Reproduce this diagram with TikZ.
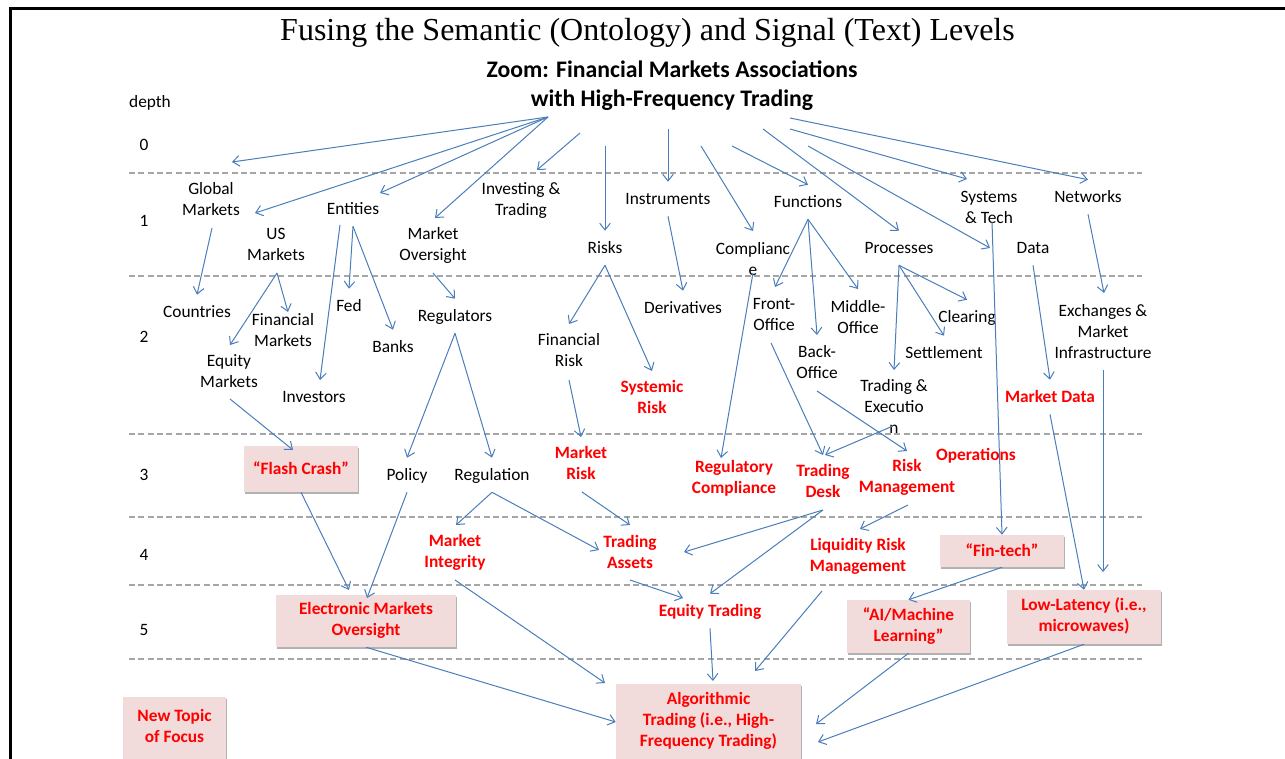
\documentclass[tikz,border=0pt]{standalone}
\usepackage{fontspec}
\setmainfont{Carlito}
\newfontfamily\serifhead{Liberation Serif}
\usetikzlibrary{arrows.meta,shadows}
\definecolor{linkblue}{HTML}{4A7EBB}
\definecolor{hotred}{HTML}{FF0000}
\definecolor{boxpink}{HTML}{F2DCDB}
\definecolor{rulegray}{HTML}{A6A6A6}
\newcommand\bodysize{\fontsize{13}{15.75}\selectfont}
% line strut whose box centre sits on the middle of the capitals
\newcommand\linestrut{\rule[-3.4pt]{0pt}{15.75pt}}
\begin{document}
\begin{tikzpicture}[x=0.75pt,y=-0.75pt,
  lbl/.style={inner sep=4.9pt, align=center, font=\bodysize,
    execute at begin node=\linestrut, execute at end node=\linestrut},
  hot/.style={lbl, text=hotred, font=\bodysize\bfseries},
  topic/.style={hot, fill=boxpink, inner sep=0pt,
    drop shadow={shadow xshift=0.6pt, shadow yshift=-1.2pt, fill=black, opacity=0.3}},
  arr/.style={draw=linkblue, line width=0.75pt, -{Straight Barb[length=5pt,width=8pt]}},
  tier/.style={draw=rulegray, line width=1pt, dash pattern=on 4.5pt off 2.5pt},
  depthlbl/.style={font=\bodysize, inner sep=0pt}]

\useasboundingbox (0,0) rectangle (1285,759);
% frame
\draw[line width=2.25pt] (1290,9) -- (10,9) -- (10,765);

% titles
\node (title) at (647.5,33) {\serifhead\fontsize{24}{28}\selectfont Fusing the Semantic (Ontology) and Signal (Text) Levels};
\node[align=center, font=\fontsize{17.8}{21.75}\selectfont\bfseries, inner sep=0pt] (head) at (672,85.5)
  {Zoom: Financial Markets Associations\\with High-Frequency Trading};

% depth bands
\foreach \yy in {173,276,434,517,585,659}
  \draw[tier] (129,\yy) -- (1142,\yy);
\node[depthlbl] (dlab) at (150,103) {depth};
\node[depthlbl] (d0) at (144,145) {0};
\node[depthlbl] (d1) at (144,221) {1};
\node[depthlbl] (d2) at (144,337) {2};
\node[depthlbl] (d3) at (144,475) {3};
\node[depthlbl] (d4) at (144,555) {4};
\node[depthlbl] (d5) at (144,630) {5};

% depth 1
\node[lbl] (glob)  at (211,201.5) {Global\\Markets};
\node[lbl] (ent)   at (353,209) {Entities};
\node[lbl] (us)    at (276,246.5) {US\\Markets};
\node[lbl] (mo)    at (433,246.5) {Market\\Oversight};
\node[lbl] (invt)  at (521,201.5) {Investing \&\\Trading};
\node[lbl] (instr) at (668,199) {Instruments};
\node[lbl] (risks) at (605,248) {Risks};
\node[lbl] (comp)  at (753,261) {Complianc\\e};
\node[lbl] (func)  at (808,202) {Functions};
\node[lbl] (proc)  at (899,248) {Processes};
\node[lbl] (sys)   at (989,209.5) {Systems\\\& Tech};
\node[lbl] (net)   at (1088,197) {Networks};
\node[lbl] (data)  at (1033,248) {Data};

% depth 2
\node[lbl] (ctry)   at (197,312) {Countries};
\node[lbl] (finm)   at (283,332.5) {Financial\\Markets};
\node[lbl] (fed)    at (349,306) {Fed};
\node[lbl] (eqm)    at (229,373.5) {Equity\\Markets};
\node[lbl] (invs)   at (314,397) {Investors};
\node[lbl] (banks)  at (393,347) {Banks};
\node[lbl] (regs)   at (455,316) {Regulators};
\node[lbl] (deriv)  at (683,308) {Derivatives};
\node[lbl] (finr)   at (569,352.5) {Financial\\Risk};
\node[hot] (sysr)   at (652,399.5) {Systemic\\Risk};
\node[lbl] (front)  at (774,316.5) {Front-\\Office};
\node[lbl] (mid)    at (858,319.5) {Middle-\\Office};
\node[lbl] (back)   at (817,364.5) {Back-\\Office};
\node[lbl] (clear)  at (967,317) {Clearing};
\node[lbl] (settle) at (944,353) {Settlement};
\node[lbl] (trex)   at (894,408.5) {Trading \&\\Executio\\n};
\node[lbl] (exch)   at (1103,333.5) {Exchanges \&\\Market\\Infrastructure};
\node[hot] (mdata)  at (1050,397) {Market Data};

% depth 3
\node[topic, minimum width=85.5pt, minimum height=34.5pt] (flash) at (301,469) {“Flash Crash”};
\node[lbl] (policy) at (407,475) {Policy};
\node[lbl] (regn)   at (492,475) {Regulation};
\node[hot] (mrisk)  at (581,465.5) {Market\\Risk};
\node[hot] (regc)   at (734,479.5) {Regulatory\\Compliance};
\node[hot] (tdesk)  at (823,483.5) {Trading\\Desk};
\node[hot] (riskm)  at (907,478.5) {Risk\\Management};
\node[hot] (ops)    at (976,455) {Operations};

% depth 4
\node[hot] (minteg)  at (455,553.5) {Market\\Integrity};
\node[hot] (tassets) at (630,554.5) {Trading\\Assets};
\node[hot] (liq)     at (858,557.5) {Liquidity Risk\\Management};
\node[topic, minimum width=93pt, minimum height=24pt] (fintech) at (1002,551) {“Fin-tech”};

% depth 5
\node[topic, minimum width=135pt, minimum height=39pt] (emo) at (366,621) {Electronic Markets\\Oversight};
\node[hot] (eqt) at (710,611) {Equity Trading};
\node[topic, minimum width=92.25pt, minimum height=39.75pt] (aiml) at (908.5,626.5) {“AI/Machine\\Learning”};
\node[topic, minimum width=115.5pt, minimum height=40.5pt] (lowlat) at (1084,617) {Low-Latency (i.e.,\\microwaves)};

% goal and legend
\node[topic, minimum width=138.75pt, minimum height=57pt] (algo) at (708.5,722) {Algorithmic\\Trading (i.e., High-\\Frequency Trading)};
\node[topic, minimum width=77.25pt, minimum height=46.5pt] (newt) at (174.5,728) {New Topic\\of Focus};

% free ends of the fan below the heading
\coordinate (hubL) at (548,117);
\coordinate (s1) at (580,133);
\coordinate (s2) at (605,146);
\coordinate (s3) at (668,129);
\coordinate (s4) at (701,146);
\coordinate (s5) at (732,146);
\coordinate (s6) at (763,129);
\coordinate (s7) at (808,146);
\coordinate (s8) at (790,129);
\coordinate (s9) at (790,118);
\coordinate (loose0) at (232,162);
\coordinate (loose1) at (1103,572);

% depth 0 -> 1
\draw[arr] (hubL) -- (loose0);
\draw[arr] (hubL) -- ([shift={(44,11.5)}]glob.center);
\draw[arr] (hubL) -- ([shift={(27,-16)}]ent.center);
\draw[arr] (hubL) -- ([shift={(2,-28.5)}]mo.center);
\draw[arr] (s1) -- ([shift={(16,-31.5)}]invt.center);
\draw[arr] (s2) -- (risks.north);
\draw[arr] (s3) -- (instr.north);
\draw[arr] (s4) -- ([shift={(0,-30)}]comp.center);
\draw[arr] (s5) -- (func.north);
\draw[arr] (s6) -- (proc.north);
\draw[arr] (s7) -- ([shift={(-43,0)}]data.center);
\draw[arr] (s8) -- ([shift={(-22,-30.5)}]sys.center);
\draw[arr] (s9) -- (net.north);

% depth 1 -> 2
\draw[arr] ([shift={(1,26.5)}]glob.center) -- (ctry.north);
\draw[arr] ([shift={(1,26.5)}]us.center) -- ([shift={(1,-28.5)}]eqm.center);
\draw[arr] ([shift={(1,26.5)}]us.center) -- ([shift={(5,-20.5)}]finm.center);
\draw[arr] ([shift={(-13,16)}]ent.center) -- ([shift={(6,-17)}]invs.center);
\draw[arr] (ent.south) -- (fed.north);
\draw[arr] (ent.south) -- (banks.north);
\draw[arr] ([shift={(0,26.5)}]mo.center) -- (regs.north);
\draw[arr] (risks.south) -- ([shift={(0,-28.5)}]finr.center);
\draw[arr] (risks.south) -- ([shift={(0,-28.5)}]sysr.center);
\draw[arr] (instr.south) -- (deriv.north);
\draw[arr] (func.south) -- ([shift={(1,-29.5)}]front.center);
\draw[arr] (func.south) -- ([shift={(0,-29.5)}]back.center);
\draw[arr] (func.south) -- ([shift={(0,-30.5)}]mid.center);
\draw[arr] (proc.south) -- (clear.north);
\draw[arr] (proc.south) -- (settle.north);
\draw[arr] (proc.south) -- ([shift={(0,-38.5)}]trex.center);
\draw[arr] (net.south) -- ([shift={(1,-40.5)}]exch.center);
\draw[arr] (data.south) -- (mdata.north);

% into depth 3 and below
\draw[arr] ([shift={(3,12.5)}]sys.center) -- (fintech.north);
\draw[arr] ([shift={(0,36.5)}]exch.center) -- (loose1);
\draw[arr] (mdata.south) -- (lowlat.north);
\draw[arr] ([shift={(0,12)}]comp.center) -- ([shift={(-13,-21.5)}]regc.center);
\draw[arr] ([shift={(-3,26.5)}]front.center) -- ([shift={(0,-28.5)}]tdesk.center);
\draw[arr] ([shift={(0,26.5)}]back.center) -- ([shift={(0,-27.5)}]riskm.center);
\draw[arr] ([shift={(-1,17.5)}]trex.center) -- ([shift={(2,-28.5)}]tdesk.center);
\draw[arr] ([shift={(1,25.5)}]eqm.center) -- ([shift={(-8,-19)}]flash.center);
\draw[arr] (regs.south) -- (policy.north);
\draw[arr] (regs.south) -- (regn.north);
\draw[arr] ([shift={(0,27.5)}]finr.center) -- ([shift={(0,-28.5)}]mrisk.center);

% depth 3 -> 4 and 5
\draw[arr] (regn.south) -- ([shift={(1,-28.5)}]minteg.center);
\draw[arr] (regn.south) -- ([shift={(-31,-4.5)}]tassets.center);
\draw[arr] ([shift={(1,26.5)}]mrisk.center) -- ([shift={(0,-29.5)}]tassets.center);
\draw[arr] ([shift={(0,26.5)}]tdesk.center) -- ([shift={(54,-2.5)}]tassets.center);
\draw[arr] ([shift={(0,26.5)}]tdesk.center) -- (eqt.north);
\draw[arr] ([shift={(1,26.5)}]riskm.center) -- ([shift={(2,-28.5)}]liq.center);
\draw[arr] (flash.south) -- ([shift={(-17,-31)}]emo.center);
\draw[arr] (policy.south) -- ([shift={(1,-23)}]emo.center);
\draw[arr] ([shift={(0,25.5)}]tassets.center) -- ([shift={(-27,-13)}]eqt.center);
\draw[arr] (fintech.south) -- (aiml.north);

% into algorithmic trading
\draw[arr] ([shift={(0,26.5)}]minteg.center) -- ([shift={(-103.5,-39)}]algo.center);
\draw[arr] (emo.south) -- (algo.west);
\draw[arr] (eqt.south) -- ([shift={(4.5,-41)}]algo.center);
\draw[arr] ([shift={(-36,33.5)}]liq.center) -- ([shift={(46.5,-51)}]algo.center);
\draw[arr] (aiml.south) -- ([shift={(107.5,2)}]algo.center);
\draw[arr] (lowlat.south) -- ([shift={(109.5,20)}]algo.center);
\end{tikzpicture}
\end{document}
